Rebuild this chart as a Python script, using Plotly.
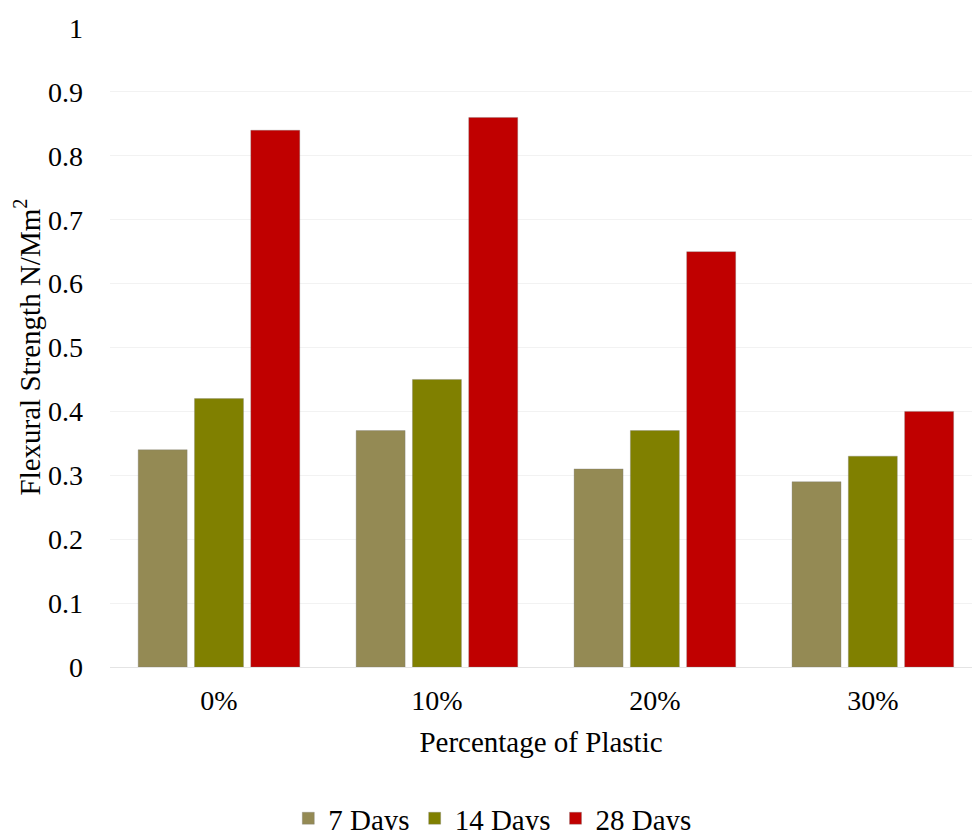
import plotly.graph_objects as go

# Flexural strength of concrete mixes with plastic replacement
categories = ["0%", "10%", "20%", "30%"]
series_names = ["7 Days", "14 Days", "28 Days"]
days_7 = [0.34, 0.37, 0.31, 0.29]
days_14 = [0.42, 0.45, 0.37, 0.33]
days_28 = [0.84, 0.86, 0.65, 0.40]
y_ticks = [0, 0.1, 0.2, 0.3, 0.4, 0.5, 0.6, 0.7, 0.8, 0.9, 1]
y_tick_text = ["0", "0.1", "0.2", "0.3", "0.4", "0.5", "0.6", "0.7", "0.8", "0.9", "1"]

colors = ["#948A54", "#808000", "#C00000"]
FONT = "Liberation Serif, Times New Roman, serif"

fig = go.Figure()
for name, vals, col in zip(series_names, [days_7, days_14, days_28], colors):
    fig.add_trace(go.Bar(
        name=name, x=categories, y=vals,
        marker=dict(color=col, line=dict(color="rgba(120,120,120,0.3)", width=1)),
    ))

fig.update_layout(
    width=972, height=830,
    margin=dict(l=110, r=0, t=28, b=163),
    paper_bgcolor="white", plot_bgcolor="white",
    font=dict(family=FONT, size=28, color="black"),
    barmode="group", bargap=0.225, bargroupgap=0.13,
    showlegend=True,
    legend=dict(
        orientation="h", xref="container", yref="container",
        x=0.507, xanchor="center", y=0.014, yanchor="middle",
        font=dict(family=FONT, size=29), itemwidth=30,
    ),
    xaxis=dict(
        range=[-0.5, 3.455], showgrid=False, showline=False, ticks="",
        tickfont=dict(family=FONT, size=28),
        ticklabelstandoff=14,
        title=dict(text="Percentage of Plastic", font=dict(family=FONT, size=29), standoff=16),
    ),
    yaxis=dict(
        range=[0, 1], tickvals=y_ticks, ticktext=y_tick_text,
        tickfont=dict(family=FONT, size=28),
        showgrid=True, gridcolor="#f2f2f2", gridwidth=1,
        zeroline=True, zerolinecolor="#e4e4e4", zerolinewidth=1,
        showline=False, ticks="", ticklabelstandoff=26,
    ),
    annotations=[dict(
        text="Flexural Strength N/Mm<sup>2</sup>", xref="paper", yref="paper",
        x=(27 - 110) / 862, xanchor="center", y=0.5, yanchor="middle", showarrow=False,
        textangle=-90, font=dict(family=FONT, size=29),
    )],
)

fig.write_html("out.html")
